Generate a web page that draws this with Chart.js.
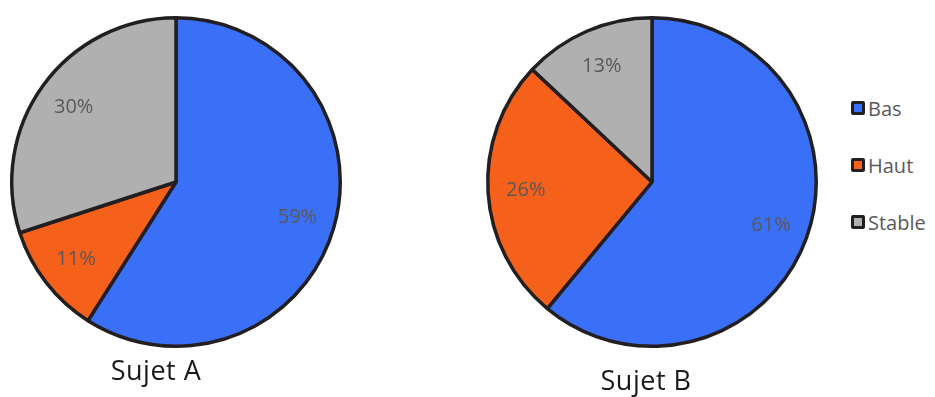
<!DOCTYPE html>
<html>
<head>
<meta charset="utf-8">
<script src="https://cdn.jsdelivr.net/npm/chart.js@4/dist/chart.umd.min.js"></script>
<style>
  body { margin: 0; background: #fff; font-family: "Open Sans", sans-serif; }
  #wrap { position: relative; width: 935px; height: 397px; }
  .box { position: absolute; top: 0; width: 352px; height: 364px; }
  .title { position: absolute; font-size: 27px; letter-spacing: 0.5px; color: #1a1a1a; transform: translateX(-50%); white-space: nowrap; }
  #legend { position: absolute; left: 851px; top: 95px; }
  .item { display: flex; align-items: center; height: 26px; margin-bottom: 31px; font-size: 20px; color: #595959; }
  .sw { width: 8px; height: 8px; border: 3px solid #231f20; border-radius: 2px; margin-right: 3px; }
</style>
</head>
<body>
<div id="wrap">
  <div class="box" style="left:0"><canvas id="pieA"></canvas></div>
  <div class="box" style="left:476px"><canvas id="pieB"></canvas></div>
  <div class="title" style="left:156px; top:351px">Sujet A</div>
  <div class="title" style="left:646px; top:361px">Sujet B</div>
  <div id="legend"></div>
</div>
<script>
const categories = ["Bas", "Haut", "Stable"];
const sujetA = [59, 11, 30];
const sujetB = [61, 26, 13];
const colors = ["#3a6ff7", "#f5601a", "#b0b0b0"];

// etiquettes en pourcentage dans chaque part
const percentLabels = {
  id: "percentLabels",
  afterDatasetsDraw(chart) {
    const ctx = chart.ctx;
    const values = chart.data.datasets[0].data;
    ctx.save();
    ctx.font = "20px 'Open Sans'";
    ctx.fillStyle = "#595959";
    ctx.textAlign = "center";
    ctx.textBaseline = "middle";
    chart.getDatasetMeta(0).data.forEach((arc, i) => {
      const p = arc.getProps(["x", "y", "startAngle", "endAngle", "outerRadius"], true);
      const mid = (p.startAngle + p.endAngle) / 2;
      const r = p.outerRadius * 0.77;
      ctx.fillText(values[i] + "%", p.x + Math.cos(mid) * r, p.y + Math.sin(mid) * r);
    });
    ctx.restore();
  },
};

function makePie(id, values) {
  new Chart(document.getElementById(id), {
    type: "pie",
    data: {
      labels: categories,
      datasets: [
        {
          data: values,
          backgroundColor: colors,
          borderColor: "#231f20",
          borderWidth: 3.5,
        },
      ],
    },
    options: {
      responsive: true,
      maintainAspectRatio: false,
      animation: false,
      layout: { padding: 10 },
      plugins: { legend: { display: false }, tooltip: { enabled: false } },
    },
    plugins: [percentLabels],
  });
}

makePie("pieA", sujetA);
makePie("pieB", sujetB);

// legende commune
const legend = document.getElementById("legend");
categories.forEach((c, i) => {
  const item = document.createElement("div");
  item.className = "item";
  item.innerHTML = `<span class="sw" style="background:${colors[i]}"></span>${c}`;
  legend.appendChild(item);
});
</script>
</body>
</html>
